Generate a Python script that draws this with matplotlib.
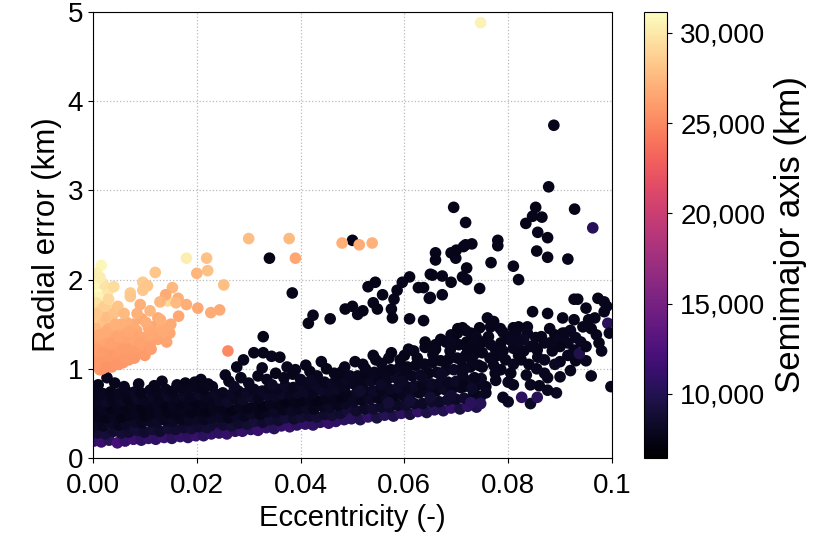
import matplotlib.pyplot as plt
import matplotlib.ticker as mticker
import numpy as np

plt.rcParams['font.family'] = ['Liberation Sans', 'DejaVu Sans']

# dense band, e < 0.024 (rows bottom -> top)
band1_ecc = [
    0.0002, 0.0016, 0.0031, 0.0047, 0.0062, 0.0078, 0.0093, 0.0107, 0.0121, 0.0137, 0.0152, 0.0168, 0.0183, 0.0198, 0.0213, 0.0228,
    0.0009, 0.0024, 0.0040, 0.0054, 0.0069, 0.0085, 0.0099, 0.0115, 0.0129, 0.0145, 0.0159, 0.0175, 0.0190, 0.0204, 0.0220, 0.0235,
    0.0004, 0.0020, 0.0033, 0.0050, 0.0063, 0.0080, 0.0094, 0.0110, 0.0123, 0.0140, 0.0153, 0.0170, 0.0185, 0.0199, 0.0215, 0.0228,
    0.0010, 0.0026, 0.0039, 0.0055, 0.0070, 0.0084, 0.0100, 0.0114, 0.0130, 0.0144, 0.0160, 0.0174, 0.0189, 0.0205, 0.0219, 0.0234,
    0.0003, 0.0018, 0.0035, 0.0048, 0.0065, 0.0078, 0.0095, 0.0108, 0.0125, 0.0138, 0.0155, 0.0168, 0.0185, 0.0198, 0.0214, 0.0230,
    0.0008, 0.0025, 0.0038, 0.0055, 0.0068, 0.0085, 0.0098, 0.0115, 0.0128, 0.0145, 0.0158, 0.0175, 0.0188, 0.0205, 0.0218, 0.0235,
    0.0003, 0.0020, 0.0034, 0.0050, 0.0064, 0.0080, 0.0093, 0.0110, 0.0124, 0.0140, 0.0154, 0.0170, 0.0184, 0.0200, 0.0213, 0.0230,
    0.0010, 0.0027, 0.0042, 0.0060, 0.0088, 0.0118, 0.0133, 0.0162, 0.0178, 0.0196, 0.0208, 0.0222,
]
band1_err = [
    0.19, 0.18, 0.20, 0.17, 0.19, 0.21, 0.20, 0.22, 0.21, 0.23, 0.22, 0.24, 0.23, 0.25, 0.25, 0.27,
    0.28, 0.27, 0.30, 0.28, 0.29, 0.31, 0.29, 0.32, 0.30, 0.33, 0.32, 0.34, 0.33, 0.35, 0.34, 0.36,
    0.37, 0.36, 0.39, 0.37, 0.38, 0.40, 0.39, 0.41, 0.40, 0.42, 0.41, 0.43, 0.42, 0.44, 0.43, 0.45,
    0.46, 0.45, 0.47, 0.46, 0.48, 0.49, 0.47, 0.50, 0.49, 0.51, 0.50, 0.52, 0.51, 0.53, 0.52, 0.54,
    0.55, 0.54, 0.56, 0.55, 0.57, 0.58, 0.56, 0.59, 0.58, 0.60, 0.58, 0.61, 0.60, 0.62, 0.61, 0.63,
    0.64, 0.63, 0.65, 0.64, 0.66, 0.67, 0.65, 0.68, 0.66, 0.69, 0.67, 0.70, 0.68, 0.71, 0.69, 0.72,
    0.73, 0.72, 0.74, 0.72, 0.75, 0.74, 0.73, 0.76, 0.74, 0.77, 0.75, 0.78, 0.76, 0.79, 0.77, 0.80,
    0.82, 0.90, 0.84, 0.80, 0.83, 0.81, 0.86, 0.82, 0.84, 0.85, 0.88, 0.83,
]
band1_sma = [
    10800, 11200, 10500, 11900, 10900, 11400, 10600, 11000, 10700, 11300, 10400, 10900, 10600, 11100, 10500, 10800,
    8700, 9000, 8500, 8800, 8600, 8900, 8500, 8700, 8400, 8800, 8600, 8500, 8700, 8600, 8800, 8600,
    8100, 7900, 8200, 7800, 8000, 8100, 7900, 8000, 8200, 7900, 8000, 7800, 8000, 8100, 7900, 8000,
    7800, 7600, 7900, 7500, 7700, 7800, 7600, 7700, 7900, 7600, 7700, 7800, 7600, 7700, 7500, 7800,
    7700, 7900, 7500, 7800, 7600, 7800, 7500, 7700, 7900, 7500, 7800, 7600, 7800, 7500, 7700, 7800,
    7900, 8100, 7800, 8000, 7700, 8200, 7900, 8000, 7800, 8100, 7900, 8000, 7800, 8200, 7900, 8000,
    7800, 7900, 7700, 7900, 7800, 8000, 7700, 7900, 7800, 7900, 7700, 7800, 7900, 7800, 7700, 7900,
    7700, 7800, 7700, 7900, 7800, 7700, 7800, 7900, 7700, 7800, 7700, 7800,
]

# dense band, 0.024 < e < 0.05
band2_ecc = [
    0.0243, 0.0258, 0.0274, 0.0288, 0.0304, 0.0318, 0.0334, 0.0349, 0.0363, 0.0379, 0.0393, 0.0409, 0.0424, 0.0438, 0.0454, 0.0468, 0.0484,
    0.0251, 0.0267, 0.0281, 0.0297, 0.0311, 0.0327, 0.0341, 0.0357, 0.0371, 0.0387, 0.0401, 0.0417, 0.0431, 0.0447, 0.0461, 0.0477, 0.0491,
    0.0246, 0.0262, 0.0276, 0.0292, 0.0306, 0.0322, 0.0336, 0.0352, 0.0366, 0.0382, 0.0396, 0.0412, 0.0426, 0.0442, 0.0456, 0.0472, 0.0486,
    0.0252, 0.0268, 0.0282, 0.0298, 0.0312, 0.0328, 0.0342, 0.0358, 0.0372, 0.0388, 0.0402, 0.0418, 0.0432, 0.0448, 0.0462, 0.0478, 0.0492,
    0.0244, 0.0259, 0.0275, 0.0289, 0.0305, 0.0319, 0.0335, 0.0350, 0.0364, 0.0380, 0.0394, 0.0410, 0.0425, 0.0439, 0.0455, 0.0469, 0.0485,
    0.0250, 0.0266, 0.0280, 0.0296, 0.0310, 0.0326, 0.0340, 0.0356, 0.0370, 0.0386, 0.0400, 0.0416, 0.0430, 0.0446, 0.0460, 0.0476, 0.0490,
    0.0255, 0.0277, 0.0290, 0.0310, 0.0326, 0.0328, 0.0344, 0.0360, 0.0374, 0.0390, 0.0410, 0.0440, 0.0465, 0.0480,
]
band2_err = [
    0.28, 0.27, 0.30, 0.30, 0.32, 0.31, 0.34, 0.33, 0.36, 0.35, 0.37, 0.38, 0.37, 0.40, 0.39, 0.41, 0.43,
    0.37, 0.36, 0.39, 0.38, 0.41, 0.40, 0.43, 0.42, 0.45, 0.44, 0.46, 0.47, 0.46, 0.49, 0.48, 0.50, 0.52,
    0.46, 0.45, 0.48, 0.47, 0.50, 0.49, 0.52, 0.51, 0.54, 0.53, 0.55, 0.56, 0.55, 0.58, 0.57, 0.59, 0.61,
    0.55, 0.54, 0.57, 0.56, 0.59, 0.58, 0.61, 0.60, 0.63, 0.62, 0.64, 0.65, 0.64, 0.67, 0.66, 0.68, 0.70,
    0.64, 0.63, 0.66, 0.65, 0.68, 0.67, 0.70, 0.69, 0.72, 0.71, 0.73, 0.74, 0.73, 0.76, 0.75, 0.77, 0.79,
    0.73, 0.71, 0.75, 0.73, 0.77, 0.75, 0.79, 0.77, 0.81, 0.79, 0.82, 0.83, 0.81, 0.85, 0.83, 0.86, 0.88,
    0.93, 1.02, 1.10, 1.18, 1.01, 1.18, 1.14, 1.13, 1.02, 0.99, 1.04, 1.08, 0.95, 0.97,
]
band2_sma = [
    10600, 11000, 10400, 10900, 10500, 11200, 10700, 10300, 10800, 11100, 10500, 10900, 10600, 10400, 11000, 10700, 10500,
    8600, 8900, 8400, 8700, 9000, 8500, 8800, 8600, 8900, 8400, 8700, 8500, 8800, 8400, 8700, 8600, 8900,
    8000, 7800, 8200, 7900, 8100, 7700, 7900, 8200, 7800, 8000, 7900, 8100, 7700, 7900, 8100, 7800, 8000,
    7700, 7500, 7800, 7600, 7700, 7500, 7800, 7700, 7500, 7700, 7600, 7800, 7500, 7700, 7800, 7600, 7700,
    8000, 8300, 7900, 8100, 8400, 7800, 8200, 8000, 8300, 7900, 8100, 8200, 7800, 8300, 8000, 8100, 7900,
    7900, 8000, 7800, 8100, 7900, 8000, 7800, 7900, 8100, 7800, 8000, 7900, 8100, 7800, 8000, 7900, 8000,
    7800, 7700, 7800, 7700, 7900, 7700, 7800, 7700, 7900, 7800, 7700, 7800, 7900, 7700,
]

# dense band, 0.05 < e < 0.075
band3_ecc = [
    0.0498, 0.0515, 0.0530, 0.0547, 0.0562, 0.0579, 0.0594, 0.0611, 0.0626, 0.0643, 0.0658, 0.0675, 0.0690, 0.0707, 0.0722, 0.0739,
    0.0507, 0.0523, 0.0539, 0.0555, 0.0571, 0.0587, 0.0603, 0.0619, 0.0635, 0.0651, 0.0667, 0.0683, 0.0699, 0.0715, 0.0731, 0.0747,
    0.0501, 0.0517, 0.0533, 0.0549, 0.0565, 0.0581, 0.0597, 0.0613, 0.0629, 0.0645, 0.0661, 0.0677, 0.0693, 0.0709, 0.0725, 0.0741,
    0.0508, 0.0524, 0.0540, 0.0556, 0.0572, 0.0588, 0.0604, 0.0620, 0.0636, 0.0652, 0.0668, 0.0684, 0.0700, 0.0716, 0.0732, 0.0748,
    0.0503, 0.0519, 0.0535, 0.0551, 0.0567, 0.0583, 0.0599, 0.0615, 0.0631, 0.0647, 0.0663, 0.0679, 0.0695, 0.0711, 0.0727, 0.0743,
    0.0510, 0.0526, 0.0542, 0.0558, 0.0574, 0.0590, 0.0606, 0.0622, 0.0638, 0.0654, 0.0670, 0.0686, 0.0702, 0.0718, 0.0734, 0.0750,
    0.0520, 0.0545, 0.0570, 0.0600, 0.0618, 0.0640, 0.0660, 0.0680, 0.0690, 0.0695, 0.0705, 0.0712, 0.0720, 0.0728, 0.0735, 0.0745,
]
band3_err = [
    0.44, 0.43, 0.46, 0.45, 0.48, 0.47, 0.50, 0.49, 0.52, 0.51, 0.54, 0.53, 0.56, 0.55, 0.58, 0.57,
    0.53, 0.55, 0.55, 0.57, 0.57, 0.59, 0.59, 0.61, 0.61, 0.63, 0.63, 0.65, 0.66, 0.67, 0.68, 0.69,
    0.63, 0.65, 0.66, 0.67, 0.68, 0.70, 0.70, 0.72, 0.73, 0.74, 0.75, 0.77, 0.78, 0.79, 0.81, 0.82,
    0.73, 0.75, 0.75, 0.77, 0.77, 0.79, 0.80, 0.81, 0.82, 0.83, 0.84, 0.85, 0.86, 0.88, 0.88, 0.89,
    0.83, 0.85, 0.86, 0.87, 0.88, 0.90, 0.91, 0.92, 0.93, 0.95, 0.96, 0.98, 0.99, 1.01, 1.02, 1.04,
    0.92, 0.95, 0.96, 0.98, 0.99, 1.01, 1.02, 1.04, 1.05, 1.07, 1.09, 1.11, 1.12, 1.15, 1.16, 1.18,
    1.05, 1.10, 1.12, 1.15, 1.20, 1.24, 1.22, 1.30, 1.24, 1.36, 1.27, 1.46, 1.30, 1.40, 1.28, 1.46,
]
band3_sma = [
    10400, 9800, 10800, 9400, 10200, 9600, 10600, 9200, 10900, 9500, 10300, 9900, 11000, 9300, 10700, 9700,
    8500, 8200, 8600, 8300, 8400, 8100, 8500, 8300, 8200, 8400, 8300, 8400, 8100, 8500, 8300, 8200,
    8000, 7800, 8100, 7800, 8000, 7700, 7900, 8100, 7800, 8000, 7800, 8100, 7700, 7900, 8000, 7800,
    8100, 7900, 8200, 7800, 8000, 8300, 7900, 8100, 7800, 8200, 8000, 7900, 8100, 7800, 8200, 8000,
    7900, 7800, 8000, 7700, 7900, 8100, 7800, 7900, 8000, 7700, 7900, 7800, 8000, 7900, 7700, 7900,
    7800, 7700, 7900, 7800, 7700, 7900, 7800, 7700, 7900, 7800, 7700, 7900, 7800, 7700, 7900, 7800,
    7700, 7800, 7700, 7600, 7800, 7700, 7600, 7800, 7700, 7600, 7800, 7700, 7600, 7700, 7800, 7600,
]

# band, e > 0.075
band4_ecc = [
    0.0998, 0.0960, 0.0950, 0.0930, 0.0900, 0.0876, 0.0893, 0.0876, 0.0860, 0.0843,
    0.0843, 0.0856, 0.0826, 0.0800, 0.0790, 0.0900, 0.0857, 0.0830, 0.0810, 0.0810,
    0.0837, 0.0847, 0.0876, 0.0905, 0.0927, 0.0934, 0.0927, 0.0973, 0.0950, 0.0967,
    0.0985, 0.0992, 0.0970, 0.0975, 0.0944, 0.0920, 0.0910, 0.0890, 0.0880, 0.0915,
    0.0927, 0.0937, 0.0820, 0.0815, 0.0837, 0.0853, 0.0864, 0.0870, 0.0897, 0.0843,
    0.0856, 0.0830, 0.0798, 0.0805, 0.0790, 0.0786, 0.0776, 0.0766, 0.0762, 0.0766,
    0.0760, 0.0772, 0.0718, 0.0703, 0.0690, 0.0690, 0.0660, 0.0772, 0.0786, 0.0776,
    0.0800, 0.0810, 0.0750, 0.0757, 0.0757, 0.0734, 0.0747, 0.0728, 0.0765, 0.0780,
    0.0795, 0.0810, 0.0825, 0.0840, 0.0855, 0.0870, 0.0885, 0.0900, 0.0915, 0.0930,
    0.0950, 0.0960, 0.0985, 0.0775, 0.0805, 0.0835, 0.0820, 0.0785, 0.0745, 0.0730,
    0.0715, 0.0735, 0.0715,
]
band4_err = [
    0.80, 0.92, 1.09, 1.09, 0.91, 0.90, 0.73, 0.76, 0.81, 0.82,
    0.61, 0.68, 0.68, 0.63, 0.68, 1.08, 1.13, 1.20, 1.23, 1.46,
    1.47, 1.64, 1.62, 1.57, 1.55, 1.78, 1.78, 1.79, 1.68, 1.57,
    1.64, 1.51, 1.38, 1.29, 1.47, 1.43, 1.40, 1.38, 1.29, 1.29,
    1.21, 1.17, 1.47, 1.40, 1.40, 1.35, 1.36, 1.29, 1.32, 1.25,
    1.21, 1.33, 1.36, 1.32, 1.41, 1.29, 1.21, 1.27, 1.36, 1.47,
    1.57, 1.53, 1.43, 1.45, 1.38, 1.29, 1.27, 1.04, 0.99, 0.87,
    0.85, 0.82, 1.02, 0.80, 0.73, 0.74, 0.61, 0.62, 1.12, 1.15,
    1.10, 1.05, 1.10, 1.05, 1.00, 1.10, 1.20, 1.25, 1.15, 1.35,
    1.25, 1.45, 1.75, 0.95, 0.95, 0.93, 1.30, 1.45, 1.20, 1.10,
    1.00, 0.90, 0.80,
]
band4_sma = [
    7800, 7700, 7900, 7700, 7800, 7700, 8000, 7800, 7700, 7900,
    8100, 10300, 10600, 8000, 7900, 7700, 7800, 7700, 7800, 7700,
    7800, 7600, 7700, 7800, 7700, 7600, 7700, 7600, 7700, 7800,
    7700, 10500, 7800, 7700, 7800, 7900, 7800, 7700, 7800, 7900,
    7800, 9800, 7700, 7800, 7900, 7800, 7700, 7800, 7900, 7800,
    7700, 8000, 7800, 7900, 7800, 7700, 7800, 7900, 7800, 7700,
    7800, 7700, 7800, 7700, 7800, 7900, 7800, 7800, 7700, 7800,
    7900, 7800, 7700, 7800, 7900, 7800, 10200, 10500, 7800, 7700,
    7800, 7900, 7800, 7700, 7800, 7900, 7800, 7700, 7800, 7900,
    7800, 7700, 7800, 7800, 7700, 7800, 7900, 7800, 7700, 7800,
    7900, 7800, 7700,
]

# upper part of the band, 0.026 < e < 0.1
band5_ecc = [
    0.0262, 0.0285, 0.0300, 0.0318, 0.0335, 0.0352, 0.0368, 0.0385, 0.0400, 0.0418,
    0.0432, 0.0450, 0.0468, 0.0485, 0.0272, 0.0345, 0.0420, 0.0495, 0.0505, 0.0525,
    0.0540, 0.0556, 0.0575, 0.0592, 0.0608, 0.0625, 0.0640, 0.0655, 0.0670, 0.0688,
    0.0702, 0.0722, 0.0738, 0.0750, 0.0515, 0.0555, 0.0595, 0.0635, 0.0672, 0.0712,
    0.0730, 0.0690, 0.0650, 0.0610, 0.0570, 0.0640, 0.0680, 0.0710, 0.0790, 0.0820,
    0.0850, 0.0880, 0.0905, 0.0940, 0.0955, 0.0990, 0.0995, 0.0980, 0.0890, 0.0870,
    0.0920,
]
band5_err = [
    0.86, 0.90, 0.84, 0.92, 0.88, 0.95, 0.90, 0.94, 0.88, 0.97,
    0.92, 1.00, 0.93, 1.02, 0.80, 0.82, 0.87, 0.92, 1.08, 1.00,
    1.15, 1.06, 1.18, 1.10, 1.22, 1.12, 1.30, 1.16, 1.33, 1.20,
    1.40, 1.22, 1.36, 1.30, 0.75, 0.82, 0.86, 0.90, 0.94, 0.95,
    0.78, 0.70, 0.68, 0.64, 0.62, 1.05, 1.08, 1.10, 1.20, 1.15,
    1.25, 1.45, 1.40, 1.30, 1.55, 1.70, 1.40, 1.20, 1.05, 0.95,
    0.98,
]
band5_sma = [
    7700, 7800, 7900, 7700, 7800, 7600, 7800, 7700, 7900, 7700,
    7800, 7600, 7700, 7800, 8000, 8100, 8000, 7900, 7700, 7800,
    7700, 7800, 7600, 7700, 7800, 7700, 7600, 7800, 7700, 7800,
    7600, 7700, 7800, 7700, 8400, 8200, 8100, 8000, 8100, 7900,
    8300, 8600, 8700, 8800, 8900, 7800, 7700, 7800, 7800, 7700,
    7800, 7700, 7800, 7900, 7700, 7800, 7900, 7800, 8000, 7900,
    7800,
]

# sparse upper branch of low orbits
upper_ecc = [
    0.0328, 0.0340, 0.0384, 0.0415, 0.0424, 0.0457, 0.0486, 0.0500, 0.0510, 0.0520,
    0.0530, 0.0544, 0.0540, 0.0548, 0.0558, 0.0575, 0.0577, 0.0580, 0.0586, 0.0596,
    0.0610, 0.0610, 0.0627, 0.0637, 0.0637, 0.0648, 0.0650, 0.0660, 0.0500, 0.0695,
    0.0718, 0.0660, 0.0690, 0.0699, 0.0714, 0.0730, 0.0720, 0.0712, 0.0720, 0.0690,
    0.0673, 0.0654, 0.0673, 0.0650, 0.0745, 0.0767, 0.0780, 0.0780, 0.0810, 0.0820,
    0.0834, 0.0847, 0.0853, 0.0865, 0.0857, 0.0876, 0.0855, 0.0876, 0.0878, 0.0928,
    0.0915, 0.0963, 0.0888, 0.0700, 0.0718,
]
upper_err = [
    1.36, 2.24, 1.85, 1.51, 1.60, 1.56, 1.67, 1.70, 1.61, 1.65,
    1.92, 1.97, 1.74, 1.67, 1.83, 1.67, 1.57, 1.78, 1.88, 1.97,
    2.03, 1.56, 1.91, 1.91, 1.54, 1.79, 2.06, 2.30, 2.44, 2.81,
    2.64, 2.22, 2.30, 2.24, 2.37, 2.40, 2.13, 2.03, 2.00, 1.97,
    2.04, 2.05, 1.83, 1.80, 1.90, 2.19, 2.38, 2.44, 2.15, 2.00,
    2.63, 2.71, 2.81, 2.70, 2.53, 2.47, 2.32, 2.25, 3.04, 2.79,
    2.23, 2.58, 3.73, 2.33, 2.39,
]
upper_sma = [
    7600, 7500, 7700, 7600, 7800, 7700, 7600, 7700, 7800, 7600,
    7700, 7500, 7700, 7600, 7700, 7800, 7600, 7700, 7600, 7700,
    7600, 7800, 7700, 7600, 7700, 7800, 7600, 7700, 7500, 7600,
    7700, 7600, 7700, 7800, 7600, 7700, 7600, 7700, 7800, 7600,
    7700, 7600, 7800, 7700, 7600, 7700, 7600, 7700, 7800, 7700,
    7600, 7700, 7600, 7700, 7800, 7600, 7700, 7600, 7700, 7600,
    7700, 10400, 7700, 7600, 7700,
]

# high orbits (orange / yellow cluster)
geo_ecc = [
    0.0016, 0.0007, 0.0007, 0.0028, 0.0010, 0.0020, 0.0036, 0.0036, 0.0007, 0.0013,
    0.0009, 0.0018, 0.0180, 0.0144, 0.0219, 0.0221, 0.0200, 0.0120, 0.0096, 0.0105,
    0.0096, 0.0072, 0.0072, 0.0091, 0.0153, 0.0140, 0.0129, 0.0164, 0.0160, 0.0180,
    0.0202, 0.0165, 0.0252, 0.0244, 0.0227, 0.0260, 0.0300, 0.0378, 0.0390, 0.0480,
    0.0513, 0.0538, 0.0094, 0.0125, 0.0115, 0.0107, 0.0132, 0.0148, 0.0142, 0.0110,
    0.0107, 0.0084, 0.0077, 0.0086, 0.0086, 0.0070, 0.0064, 0.0069, 0.0058, 0.0045,
    0.0036, 0.0022, 0.0013, 0.0026, 0.0036, 0.0013, 0.0045, 0.0055, 0.0058, 0.0047,
    0.0032, 0.0005, 0.0005, 0.0005, 0.0005, 0.0005, 0.0020, 0.0020, 0.0028, 0.0030,
    0.0040, 0.0042, 0.0050, 0.0052, 0.0055, 0.0062, 0.0066, 0.0075, 0.0078, 0.0080,
    0.0095, 0.0100, 0.0102, 0.0118, 0.0125, 0.0135, 0.0065, 0.0025, 0.0040, 0.0015,
    0.0030, 0.0010, 0.0038, 0.0018, 0.0012, 0.0025, 0.0033, 0.0045, 0.0060, 0.0008,
    0.0018, 0.0034, 0.0050, 0.0060, 0.0012, 0.0026, 0.0043, 0.0070, 0.0090, 0.0100,
    0.0080, 0.0112, 0.0130, 0.0150, 0.0008, 0.0022, 0.0030, 0.0048, 0.0060, 0.0003,
    0.0014, 0.0040, 0.0085, 0.0110, 0.0747,
]
geo_err = [
    2.16, 2.07, 1.90, 1.86, 1.80, 1.95, 1.66, 1.55, 1.74, 1.66,
    1.55, 1.50, 2.24, 1.76, 2.24, 2.10, 2.07, 2.08, 1.97, 1.93,
    1.88, 1.85, 1.81, 1.72, 1.91, 1.83, 1.75, 1.79, 1.74, 1.72,
    1.68, 1.59, 1.94, 1.66, 1.63, 1.20, 2.46, 2.46, 2.24, 2.41,
    2.39, 2.41, 1.56, 1.57, 1.47, 1.46, 1.47, 1.40, 1.30, 1.28,
    1.38, 1.43, 1.38, 1.24, 1.19, 1.30, 1.25, 1.10, 1.40, 1.45,
    1.40, 1.25, 1.17, 1.10, 1.02, 0.99, 1.13, 1.18, 1.07, 1.29,
    1.32, 1.05, 1.15, 1.25, 1.35, 1.45, 1.05, 1.35, 1.20, 1.45,
    1.20, 1.35, 1.05, 1.25, 1.50, 1.33, 1.18, 1.22, 1.50, 1.32,
    1.35, 1.25, 1.52, 1.38, 1.33, 1.42, 1.52, 1.58, 1.62, 1.30,
    1.12, 1.10, 1.05, 1.00, 1.08, 1.02, 1.15, 1.05, 1.12, 1.22,
    1.18, 1.28, 1.35, 1.22, 1.38, 1.42, 1.50, 1.42, 1.30, 1.15,
    1.12, 1.22, 1.55, 1.50, 1.62, 1.70, 1.78, 1.70, 1.62, 1.95,
    2.02, 1.92, 1.62, 1.65, 4.88,
]
geo_sma = [
    30800, 30400, 31100, 30000, 30600, 29800, 29000, 28500, 29700, 29300,
    28400, 28000, 30300, 29300, 28000, 27900, 27300, 28200, 28400, 28200,
    28300, 28500, 28300, 27100, 27500, 26900, 27400, 27000, 27600, 27000,
    26700, 26600, 27800, 26800, 26900, 25000, 27700, 27600, 26600, 27100,
    26900, 27200, 26700, 26900, 26600, 26800, 27000, 26600, 26500, 26400,
    26700, 26800, 26400, 26200, 26100, 26300, 26000, 25900, 26600, 26900,
    26700, 26300, 26100, 25900, 25800, 25700, 26000, 26200, 25800, 26400,
    26600, 25900, 26100, 26400, 26800, 27400, 25800, 26600, 26200, 27200,
    26100, 26500, 25700, 26200, 27000, 26400, 26000, 26100, 26900, 26500,
    26600, 26300, 27000, 26700, 26500, 26800, 27100, 27700, 28000, 26500,
    25900, 26000, 25800, 25600, 25800, 25600, 25900, 25700, 25900, 26200,
    26000, 26300, 26500, 26100, 26800, 26900, 27200, 26700, 26400, 26000,
    25900, 26200, 27100, 26800, 28300, 28700, 29200, 28100, 27600, 30700,
    30300, 29400, 27200, 27400, 30500,
]

ecc = np.concatenate([band1_ecc, band2_ecc, band3_ecc, band4_ecc, band5_ecc, upper_ecc, geo_ecc])
err = np.concatenate([band1_err, band2_err, band3_err, band4_err, band5_err, upper_err, geo_err])
sma = np.concatenate([band1_sma, band2_sma, band3_sma, band4_sma, band5_sma, upper_sma, geo_sma])

fig = plt.figure(figsize=(8.2, 5.52), dpi=100)
ax = fig.add_axes([0.1134, 0.1703, 0.6329, 0.808])
cax = fig.add_axes([0.7854, 0.1703, 0.028, 0.808])

sc = ax.scatter(ecc, err, c=sma, cmap='magma', vmin=6450, vmax=31160, s=70, edgecolors='none')

ax.set_xlim(0, 0.1)
ax.set_ylim(0, 5)
ax.set_xticks([0, 0.02, 0.04, 0.06, 0.08, 0.1])
ax.set_xticklabels(['0.00', '0.02', '0.04', '0.06', '0.08', '0.1'])
ax.set_yticks([0, 1, 2, 3, 4, 5])
ax.grid(True, linestyle=':', color='#bbbbbb', linewidth=0.9)
ax.set_axisbelow(True)
ax.tick_params(labelsize=20)
ax.tick_params(axis='x', pad=7)
ax.set_xlabel('Eccentricity (-)', fontsize=21, labelpad=4)
ax.set_ylabel('Radial error (km)', fontsize=22.5)

cb = fig.colorbar(sc, cax=cax)
cb.set_ticks([10000, 15000, 20000, 25000, 30000])
cb.ax.yaxis.set_major_formatter(mticker.StrMethodFormatter('{x:,.0f}'))
cb.ax.tick_params(labelsize=20, pad=6)
cb.set_label('Semimajor axis (km)', fontsize=25, labelpad=6)

plt.savefig('out.png', dpi=100)
